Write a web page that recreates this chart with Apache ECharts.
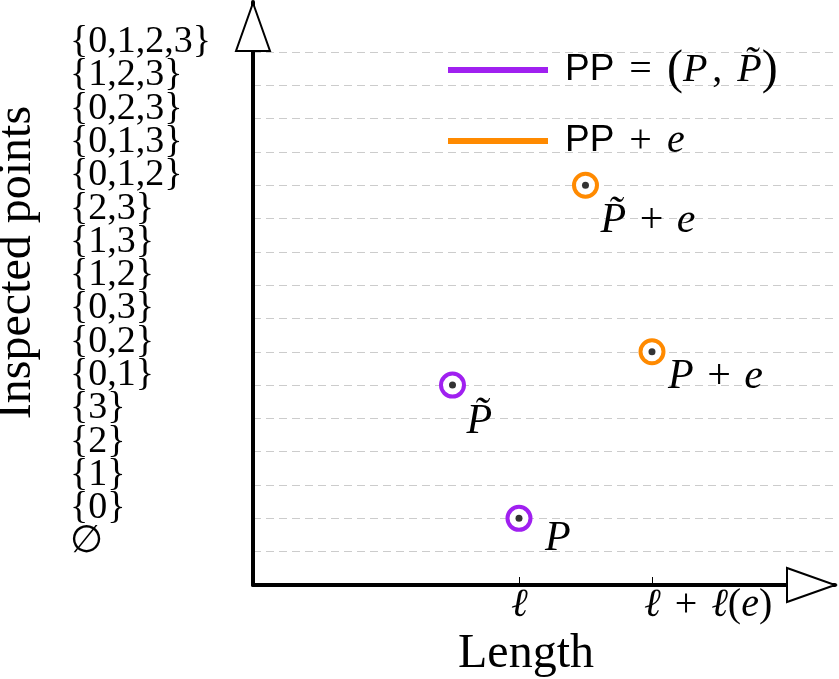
<!DOCTYPE html>
<html>
<head>
<meta charset="utf-8">
<script src="https://cdn.jsdelivr.net/npm/echarts@6/dist/echarts.min.js"></script>
<style>
  html, body { margin: 0; padding: 0; background: #fff; }
  #chart { width: 839px; height: 679px; }
</style>
</head>
<body>
<div id="chart"></div>
<script>
// inspected point sets, bottom to top (y = 1 .. 16)
const ySets = ['∅', '{0}', '{1}', '{2}', '{3}', '{0,1}', '{0,2}', '{0,3}', '{1,2}', '{1,3}', '{2,3}',
  '{0,1,2}', '{0,1,3}', '{0,2,3}', '{1,2,3}', '{0,1,2,3}']
const yValues = [1, 2, 3, 4, 5, 6, 7, 8, 9, 10, 11, 12, 13, 14, 15, 16]

// length axis: 0 at the origin, ℓ = 2, ℓ + ℓ(e) = 3
const xTickValues = [2, 3]
const xTickLabels = ['ℓ', 'ℓ + ℓ(e)']

// PP = (P, P̃)
const ppNames = ['P', 'P̃']
const ppLength = [2, 1.5]
const ppSet = ['{0}', '{0,1}']

// PP + e
const ppeNames = ['P + e', 'P̃ + e']
const ppeLength = [3, 2.5]
const ppeSet = ['{0,2}', '{0,1,2}']

const SERIF = "'Liberation Serif', 'DejaVu Serif', serif"
const SANS = "'Liberation Sans', 'DejaVu Sans', sans-serif"
const PURPLE = '#a020f0'
const ORANGE = '#ff8a00'

const yOf = s => yValues[ySets.indexOf(s)]

// empty labels at both ends keep the real first/last labels from being auto-hidden
const yLabelValues = [0].concat(yValues, [17])

// where each point label sits relative to its circle
const labelOffset = {
  'P': [26, 0],
  'P̃': [14, 16],
  'P + e': [16, 4],
  'P̃ + e': [15, 15],
}

const mathRich = {
  i: { fontFamily: SERIF, fontStyle: 'italic', fontSize: 42, color: '#000' },
  r: { fontFamily: SERIF, fontSize: 42, color: '#000', padding: [0, 3, 0, 3] },
}

function mathLabel(name) {
  return name.split(' ').map(t => (t === '+' ? '{r| + }' : '{i|' + t + '}')).join('')
}

// ℓ + ℓ(e): italic letters, upright operator and brackets
function tickLabel(text) {
  return text.split(/(ℓ|e| \+ )/)
    .filter(s => s.length)
    .map(s => {
      if (s === 'ℓ' || s === 'e') return '{i|' + s + '}'
      if (s === ' + ') return '{o| + }'
      return '{r|' + s + '}'
    })
    .join('')
}

function pointSeries(name, color, xs, sets, names) {
  return {
    name,
    type: 'scatter',
    symbol: 'circle',
    symbolSize: 23,
    itemStyle: { color: '#fff', borderColor: color, borderWidth: 4, opacity: 1 },
    label: {
      show: true,
      position: 'inside',
      align: 'left',
      verticalAlign: 'top',
      formatter: p => mathLabel(p.name),
      rich: mathRich,
    },
    emphasis: { disabled: true },
    z: 3,
    data: xs.map((x, i) => ({
      name: names[i],
      value: [x, yOf(sets[i])],
      label: { offset: labelOffset[names[i]] },
    })),
  }
}

const legendNames = ['PP = (P, P̃)', 'PP + e']

const chart = echarts.init(document.getElementById('chart'))

chart.setOption({
  animation: false,
  backgroundColor: '#fff',
  grid: { left: 253, right: 4, top: 2, bottom: 94, containLabel: false, outerBoundsMode: 'none' },
  legend: {
    left: 448,
    top: 46,
    padding: 0,
    orient: 'vertical',
    itemWidth: 100,
    itemHeight: 6,
    itemGap: 27,
    selectedMode: false,
    data: [
      { name: legendNames[0], icon: 'rect', itemStyle: { color: PURPLE, borderWidth: 0 } },
      { name: legendNames[1], icon: 'rect', itemStyle: { color: ORANGE, borderWidth: 0 } },
    ],
    formatter: name => {
      if (name === legendNames[0]) return '{s|PP}{m| = }{p|(}{i|P}{m|, }{i|P̃}{p|)}'
      return '{s|PP}{m| + }{i|e}'
    },
    textStyle: {
      lineHeight: 40,
      rich: {
        s: { fontFamily: SANS, fontSize: 37, color: '#000', padding: [0, 0, 0, 12], lineHeight: 40 },
        m: { fontFamily: SERIF, fontSize: 40, color: '#000', lineHeight: 40, padding: [0, 5, 0, 5] },
        p: { fontFamily: SERIF, fontSize: 48, color: '#000', lineHeight: 40 },
        i: { fontFamily: SERIF, fontStyle: 'italic', fontSize: 40, color: '#000', lineHeight: 40 },
      },
    },
  },
  xAxis: {
    type: 'value',
    min: 0,
    max: 4.376,
    name: 'Length',
    nameLocation: 'middle',
    nameGap: 40,
    nameTextStyle: { fontFamily: SERIF, fontSize: 48, color: '#000', padding: [0, 36, 0, 0] },
    axisLine: {
      show: true,
      onZero: false,
      symbol: ['none', 'emptyTriangle'],
      symbolSize: [34, 48],
      symbolOffset: [0, -24],
      lineStyle: { color: '#000', width: 4 },
    },
    axisTick: {
      show: true,
      inside: true,
      length: 8,
      customValues: xTickValues,
      lineStyle: { color: '#000', width: 1 },
    },
    axisLabel: {
      show: true,
      customValues: xTickValues,
      margin: 0,
      align: 'left',
      padding: [0, 0, 0, -8],
      color: '#000',
      formatter: v => tickLabel(xTickLabels[xTickValues.indexOf(v)] || ''),
      rich: {
        i: { fontFamily: SERIF, fontStyle: 'italic', fontSize: 40, color: '#000' },
        r: { fontFamily: SERIF, fontSize: 40, color: '#000' },
        o: { fontFamily: SERIF, fontSize: 40, color: '#000', padding: [0, 4, 0, 4] },
      },
    },
    splitLine: { show: false },
  },
  yAxis: {
    type: 'value',
    min: 0,
    max: 17.5,
    name: 'Inspected points',
    nameLocation: 'middle',
    nameGap: 212,
    nameTextStyle: { fontFamily: SERIF, fontSize: 48, color: '#000', padding: [0, 0, 0, 62] },
    axisLine: {
      show: true,
      onZero: false,
      symbol: ['none', 'emptyTriangle'],
      symbolSize: [34, 48],
      symbolOffset: [0, -25],
      lineStyle: { color: '#000', width: 4 },
    },
    axisTick: { show: false, customValues: yValues },
    axisLabel: {
      show: true,
      customValues: yLabelValues,
      margin: 183,
      align: 'left',
      verticalAlign: 'bottom',
      lineHeight: 20,
      fontFamily: SERIF,
      fontSize: 38,
      color: '#000',
      formatter: v => ySets[yValues.indexOf(v)] || '',
    },
    splitLine: {
      show: true,
      lineStyle: { color: '#cccccc', width: 1, type: [8, 5] },
    },
  },
  series: [
    pointSeries(legendNames[0], PURPLE, ppLength, ppSet, ppNames),
    pointSeries(legendNames[1], ORANGE, ppeLength, ppeSet, ppeNames),
    {
      name: 'centres',
      type: 'scatter',
      symbol: 'circle',
      symbolSize: 7,
      itemStyle: { color: '#000' },
      emphasis: { disabled: true },
      z: 4,
      data: ppLength.map((x, i) => [x, yOf(ppSet[i])])
        .concat(ppeLength.map((x, i) => [x, yOf(ppeSet[i])])),
    },
  ],
})
</script>
</body>
</html>
